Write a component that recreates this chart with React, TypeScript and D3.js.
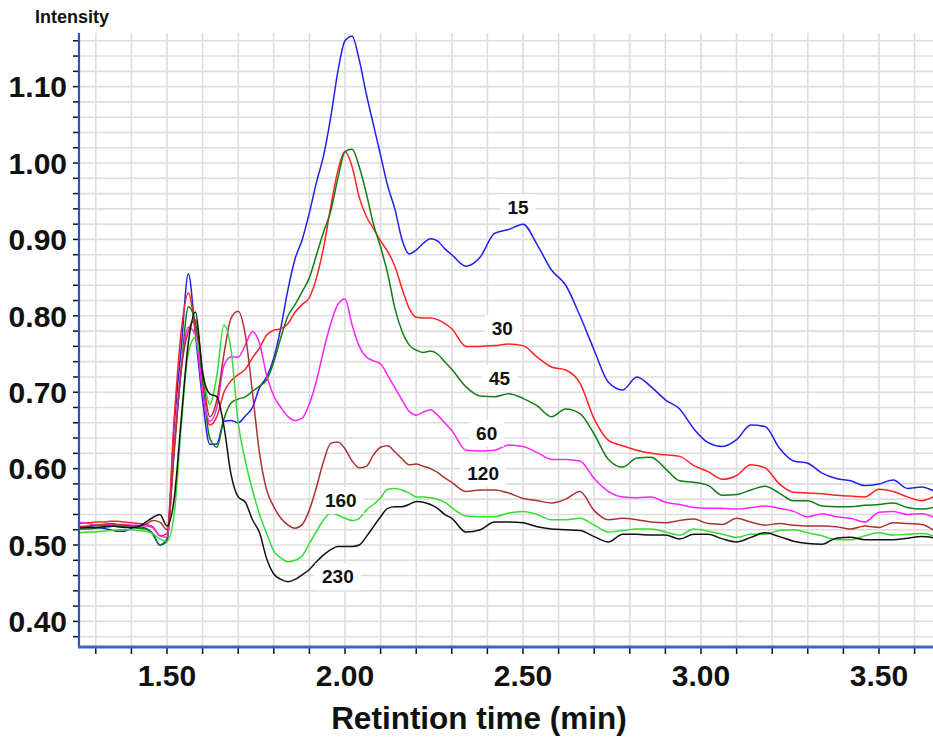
import React from "react";
import * as d3 from "d3";

// Retention times (min) shared by every trace
const times = [
  1.25, 1.28, 1.3, 1.32, 1.34, 1.36, 1.38, 1.4, 1.42, 1.44, 1.46, 1.48, 1.5, 1.52, 1.54, 1.56, 1.58, 1.6,
  1.62, 1.64, 1.66, 1.68, 1.7, 1.72, 1.74, 1.76, 1.78, 1.8, 1.82, 1.84, 1.86, 1.88, 1.9, 1.92, 1.94, 1.96,
  1.98, 2.0, 2.02, 2.04, 2.06, 2.08, 2.1, 2.12, 2.14, 2.16, 2.18, 2.2, 2.22, 2.24, 2.26, 2.28, 2.3,
  2.34, 2.38, 2.42, 2.46, 2.5, 2.54, 2.58, 2.62, 2.66, 2.7, 2.74, 2.78, 2.82, 2.86, 2.9, 2.94, 2.98,
  3.02, 3.06, 3.1, 3.14, 3.18, 3.22, 3.26, 3.3, 3.34, 3.38, 3.42, 3.46, 3.5, 3.54, 3.58, 3.62, 3.66,
];

const s15 = [
  0.524, 0.524, 0.523, 0.522, 0.52, 0.518, 0.518, 0.522, 0.524, 0.522, 0.515, 0.5, 0.508, 0.655, 0.758, 0.855, 0.775, 0.69,
  0.632, 0.632, 0.662, 0.663, 0.66, 0.669, 0.68, 0.706, 0.72, 0.745, 0.785, 0.835, 0.875, 0.9, 0.935, 0.975, 1.01, 1.06,
  1.12, 1.16, 1.166, 1.135, 1.09, 1.05, 1.01, 0.97, 0.94, 0.9, 0.881, 0.886, 0.895, 0.901, 0.898, 0.888, 0.88,
  0.865, 0.877, 0.908, 0.913, 0.92, 0.893, 0.86, 0.84, 0.8, 0.755, 0.713, 0.703, 0.72, 0.707, 0.69, 0.678, 0.652,
  0.634, 0.629, 0.638, 0.657, 0.655, 0.627, 0.61, 0.607, 0.594, 0.587, 0.584, 0.578, 0.58, 0.585, 0.574, 0.576, 0.569,
];

const s30 = [
  0.528, 0.529, 0.53, 0.53, 0.531, 0.531, 0.53, 0.529, 0.528, 0.527, 0.524, 0.512, 0.515, 0.665, 0.78, 0.83, 0.78, 0.705,
  0.657, 0.668, 0.7, 0.715, 0.723, 0.73, 0.745, 0.758, 0.775, 0.781, 0.783, 0.79, 0.805, 0.815, 0.824, 0.85, 0.89, 0.943,
  0.99, 1.015, 0.995, 0.955, 0.93, 0.914, 0.898, 0.884, 0.865, 0.836, 0.81, 0.798, 0.797, 0.797, 0.795, 0.79, 0.783,
  0.76, 0.76, 0.761, 0.763, 0.761, 0.746, 0.733, 0.729, 0.712, 0.665, 0.637, 0.63, 0.624, 0.62, 0.618, 0.616, 0.604,
  0.596, 0.586, 0.591, 0.605, 0.601, 0.58, 0.569, 0.568, 0.567, 0.565, 0.564, 0.563, 0.573, 0.57, 0.563, 0.558, 0.565,
];

const s45 = [
  0.521, 0.521, 0.522, 0.523, 0.524, 0.525, 0.524, 0.523, 0.522, 0.521, 0.514, 0.5, 0.505, 0.625, 0.73, 0.812, 0.79, 0.715,
  0.64, 0.628, 0.665, 0.686, 0.691, 0.694, 0.701, 0.708, 0.716, 0.74, 0.772, 0.8, 0.815, 0.832, 0.85, 0.88, 0.91, 0.937,
  0.98, 1.015, 1.018, 0.995, 0.96, 0.92, 0.89, 0.855, 0.81, 0.78, 0.762, 0.755, 0.752, 0.754, 0.75, 0.74, 0.73,
  0.707, 0.695, 0.694, 0.698, 0.692, 0.682, 0.668, 0.678, 0.672, 0.645, 0.612, 0.602, 0.614, 0.615, 0.6, 0.584, 0.582,
  0.578, 0.565, 0.566, 0.572, 0.577, 0.568, 0.558, 0.558, 0.551, 0.55, 0.55, 0.552, 0.553, 0.555, 0.549, 0.547, 0.55,
];

const s60 = [
  0.53, 0.528, 0.526, 0.526, 0.527, 0.527, 0.527, 0.526, 0.526, 0.525, 0.523, 0.512, 0.51, 0.63, 0.73, 0.785, 0.775, 0.7,
  0.662, 0.68, 0.735, 0.746, 0.746, 0.762, 0.779, 0.764, 0.722, 0.695, 0.68, 0.668, 0.663, 0.666, 0.685, 0.715, 0.755, 0.79,
  0.815, 0.822, 0.788, 0.76, 0.746, 0.741, 0.737, 0.722, 0.706, 0.69, 0.675, 0.67, 0.674, 0.677, 0.67, 0.66, 0.65,
  0.624, 0.623, 0.624, 0.631, 0.629, 0.621, 0.612, 0.612, 0.61, 0.587, 0.57, 0.563, 0.562, 0.563, 0.556, 0.553, 0.549,
  0.548, 0.548, 0.547, 0.549, 0.551, 0.548, 0.544, 0.537, 0.541, 0.537, 0.535, 0.53, 0.543, 0.544, 0.54, 0.541, 0.535,
];

const s120 = [
  0.524, 0.525, 0.526, 0.527, 0.528, 0.527, 0.526, 0.525, 0.525, 0.527, 0.532, 0.53, 0.52, 0.62, 0.73, 0.78, 0.795, 0.727,
  0.668, 0.69, 0.75, 0.797, 0.806, 0.775, 0.7, 0.62, 0.572, 0.55, 0.535, 0.526, 0.522, 0.527, 0.546, 0.576, 0.61, 0.633,
  0.635, 0.626, 0.61, 0.601, 0.603, 0.618, 0.628, 0.63, 0.622, 0.613, 0.605, 0.606, 0.603, 0.6, 0.595, 0.588, 0.582,
  0.57, 0.572, 0.572, 0.568, 0.561, 0.558, 0.555, 0.56, 0.57, 0.545, 0.533, 0.535, 0.533, 0.53, 0.529, 0.532, 0.534,
  0.528, 0.527, 0.535, 0.53, 0.526, 0.528, 0.526, 0.525, 0.525, 0.524, 0.521, 0.525, 0.523, 0.529, 0.528, 0.527, 0.517,
];

const s160 = [
  0.516, 0.517, 0.517, 0.518, 0.519, 0.52, 0.52, 0.52, 0.519, 0.518, 0.515, 0.508, 0.505, 0.54, 0.655, 0.752, 0.772, 0.728,
  0.684, 0.722, 0.788, 0.755, 0.66, 0.61, 0.572, 0.54, 0.515, 0.492, 0.483, 0.478, 0.48, 0.486, 0.502, 0.518, 0.533, 0.542,
  0.539, 0.535, 0.532, 0.535, 0.546, 0.553, 0.562, 0.573, 0.574, 0.572, 0.568, 0.563, 0.563, 0.562, 0.56, 0.556, 0.549,
  0.538, 0.537, 0.537, 0.542, 0.544, 0.54, 0.533, 0.533, 0.535, 0.526, 0.517, 0.519, 0.521, 0.521, 0.517, 0.513, 0.521,
  0.518, 0.514, 0.51, 0.514, 0.514, 0.519, 0.52, 0.516, 0.512, 0.507, 0.507, 0.512, 0.516, 0.513, 0.514, 0.515, 0.511,
];

const s230 = [
  0.522, 0.523, 0.523, 0.524, 0.525, 0.524, 0.523, 0.523, 0.524, 0.53, 0.536, 0.54, 0.525, 0.56, 0.665, 0.765, 0.805, 0.725,
  0.698, 0.694, 0.655, 0.592, 0.563, 0.556, 0.533, 0.516, 0.482, 0.462, 0.455, 0.452, 0.455, 0.461, 0.468, 0.478, 0.487, 0.494,
  0.498, 0.498, 0.498, 0.5, 0.511, 0.524, 0.537, 0.548, 0.55, 0.55, 0.553, 0.557, 0.556, 0.553, 0.548, 0.54, 0.535,
  0.517, 0.52, 0.53, 0.53, 0.529, 0.524, 0.521, 0.52, 0.519, 0.511, 0.504, 0.514, 0.514, 0.513, 0.513, 0.508, 0.514,
  0.514, 0.508, 0.504, 0.51, 0.516, 0.511, 0.505, 0.502, 0.501, 0.509, 0.51, 0.507, 0.507, 0.507, 0.509, 0.511, 0.509,
];

const seriesNames = ["15", "30", "45", "60", "120", "160", "230"];
const seriesValues = [s15, s30, s45, s60, s120, s160, s230];
const seriesColors = ["#2020ee", "#ff2222", "#137d13", "#ff22ff", "#aa3333", "#33dd33", "#111111"];

// Where each trace's name is printed (time, intensity)
const labelTimes = [2.486, 2.442, 2.434, 2.398, 2.388, 1.988, 1.98];
const labelValues = [0.942, 0.784, 0.719, 0.647, 0.594, 0.559, 0.459];

const xTickLabels = [1.5, 2.0, 2.5, 3.0, 3.5];
const yTickLabels = [0.4, 0.5, 0.6, 0.7, 0.8, 0.9, 1.0, 1.1];

const W = 933;
const H = 739;
const left = 79;
const right = 933;
const top = 33;
const bottom = 647;
const FONT = "'Liberation Sans', Arial, Helvetica, sans-serif";

export default function App() {
  const x = d3.scaleLinear().domain([1.2528, 3.6517]).range([left, right]);
  const y = d3.scaleLinear().domain([0.3665, 1.1702]).range([bottom, top]);

  const xGrid = d3.range(13, 37).map((d) => d / 10);
  const yGrid = d3.range(19, 59).map((d) => d / 50);

  const line = d3
    .line<number>()
    .x((_, i) => x(times[i]))
    .y((d) => y(d))
    .curve(d3.curveMonotoneX);

  const fmt = d3.format(".2f");

  return (
    <svg
      width={W}
      height={H}
      style={{ position: "absolute", left: 0, top: 0, background: "#fff" }}
      fontFamily={FONT}
    >
      <defs>
        <clipPath id="plot">
          <rect x={left} y={top} width={right - left} height={bottom - top} />
        </clipPath>
      </defs>

      {/* grid */}
      <g stroke="#dedede" strokeWidth={1.6}>
        {xGrid.map((t) => (
          <line key={"gx" + t} x1={x(t)} x2={x(t)} y1={top} y2={bottom} />
        ))}
        {yGrid.map((v) => (
          <line key={"gy" + v} x1={left} x2={right} y1={y(v)} y2={y(v)} />
        ))}
      </g>

      {/* traces */}
      <g clipPath="url(#plot)" fill="none" strokeWidth={1.5} strokeLinejoin="round">
        {seriesValues.map((vals, k) => (
          <path key={seriesNames[k]} d={line(vals) || ""} stroke={seriesColors[k]} />
        ))}
      </g>

      {/* trace names */}
      {seriesNames.map((name, k) => {
        const cx = x(labelTimes[k]);
        const cy = y(labelValues[k]);
        const w = name.length * 10.6 + 14;
        return (
          <g key={"lab" + name}>
            <rect x={cx - w / 2} y={cy - 13} width={w} height={27} fill="#fff" />
            <text
              x={cx}
              y={cy}
              dy="0.36em"
              textAnchor="middle"
              fontSize={19}
              fontWeight="bold"
              fill="#111"
            >
              {name}
            </text>
          </g>
        );
      })}

      {/* y axis */}
      <g>
        {yGrid.map((v) => (
          <line key={"ty" + v} x1={left - 6} x2={left} y1={y(v)} y2={y(v)} stroke="#111" strokeWidth={1.5} />
        ))}
        <line x1={left} x2={left} y1={top} y2={bottom} stroke="#2b55b8" strokeWidth={2.2} />
        {yTickLabels.map((v) => (
          <text
            key={"ly" + v}
            x={67}
            y={y(v)}
            dy="0.36em"
            textAnchor="end"
            fontSize={30}
            fontWeight="bold"
            fill="#111"
          >
            {fmt(v)}
          </text>
        ))}
      </g>

      {/* x axis */}
      <g>
        {xGrid.map((t) => (
          <line key={"tx" + t} x1={x(t)} x2={x(t)} y1={bottom} y2={bottom + 7} stroke="#111" strokeWidth={1.5} />
        ))}
        <line x1={left - 1} x2={right} y1={bottom} y2={bottom} stroke="#3366cc" strokeWidth={3} />
        {xTickLabels.map((t) => (
          <text
            key={"lx" + t}
            x={x(t)}
            y={686}
            textAnchor="middle"
            fontSize={30}
            fontWeight="bold"
            fill="#111"
          >
            {fmt(t)}
          </text>
        ))}
      </g>

      <text x={479} y={729} textAnchor="middle" fontSize={31.5} fontWeight="bold" fill="#111">
        Retintion time (min)
      </text>
      <text x={35} y={23} fontSize={18} fontWeight="bold" fill="#111">
        Intensity
      </text>
    </svg>
  );
}
